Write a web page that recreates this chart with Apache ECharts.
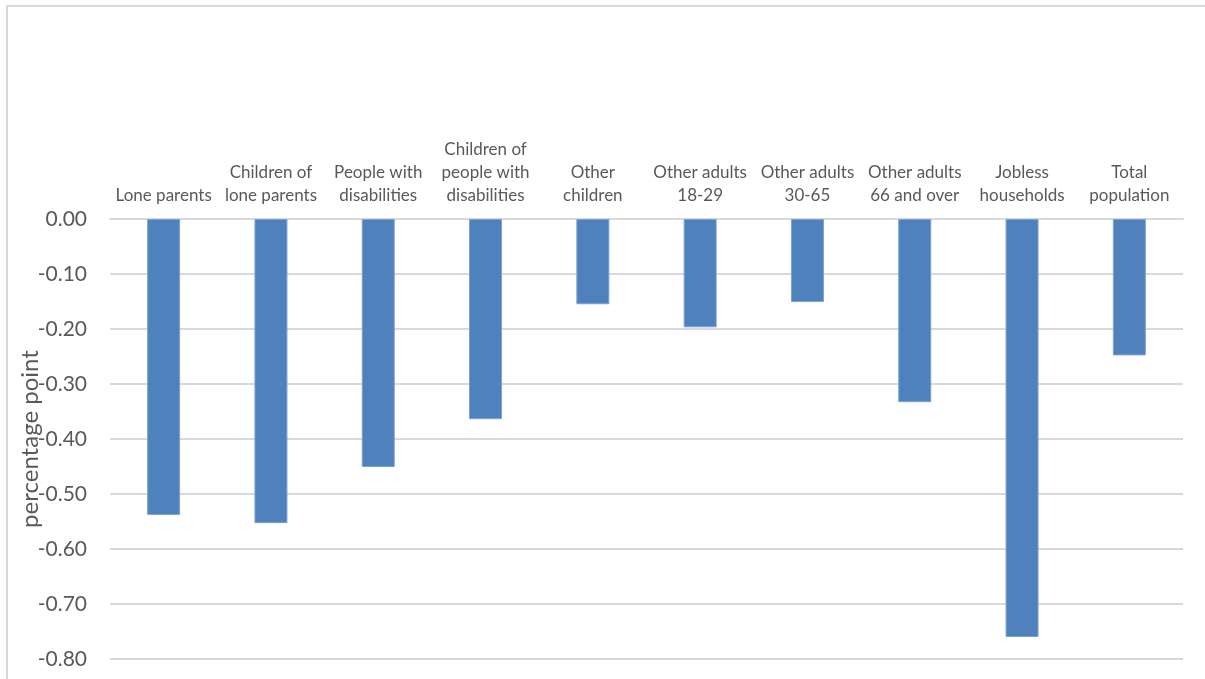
<!DOCTYPE html>
<html>
<head>
<meta charset="utf-8">
<script src="https://cdn.jsdelivr.net/npm/echarts@6/dist/echarts.min.js"></script>
<style>
  html, body { margin: 0; padding: 0; background: #fff; overflow: hidden; }
  #chart { width: 1205px; height: 679px; }
</style>
</head>
<body>
<div id="chart"></div>
<script>
// Groups (category labels, with line breaks as drawn above each bar)
const categories = [
  'Lone parents',
  'Children of\nlone parents',
  'People with\ndisabilities',
  'Children of\npeople with\ndisabilities',
  'Other\nchildren',
  'Other adults\n18-29',
  'Other adults\n30-65',
  'Other adults\n66 and over',
  'Jobless\nhouseholds',
  'Total\npopulation'
];

// Change in percentage points for each group
const values = [-0.538, -0.553, -0.451, -0.364, -0.155, -0.197, -0.151, -0.333, -0.760, -0.248];

// Value axis range and step
const yMin = -0.8;
const yMax = 0;
const yStep = 0.1;

const chart = echarts.init(document.getElementById('chart'));
const font = 'Lato, "Open Sans", sans-serif';

chart.setOption({
  animation: false,
  // light frame along the top and left edge of the chart area
  graphic: [{
    type: 'polyline',
    shape: { points: [[7, 700], [7, 6], [1230, 6]] },
    style: { stroke: '#d9d9d9', lineWidth: 2, fill: null },
    silent: true
  }],
  grid: { left: 110, right: 22, top: 219, bottom: 20, containLabel: false, outerBoundsMode: 'none' },
  xAxis: {
    type: 'category',
    data: categories,
    position: 'top',
    axisLine: { show: true, lineStyle: { color: '#d9d9d9', width: 2 } },
    axisTick: { show: false },
    axisLabel: {
      interval: 0,
      color: '#595959',
      fontFamily: font,
      fontSize: 17,
      lineHeight: 23,
      margin: 12
    }
  },
  yAxis: {
    type: 'value',
    min: yMin,
    max: yMax,
    interval: yStep,
    name: 'percentage point',
    nameLocation: 'middle',
    nameGap: 68,
    nameMoveOverlap: false,
    nameTextStyle: { color: '#595959', fontFamily: font, fontSize: 24 },
    axisLine: { show: false },
    axisTick: { show: false },
    splitLine: { lineStyle: { color: '#d9d9d9', width: 2 } },
    axisLabel: {
      color: '#595959',
      fontFamily: font,
      fontSize: 21,
      margin: 23,
      formatter: v => v.toFixed(2)
    }
  },
  series: [{
    type: 'bar',
    data: values,
    barWidth: 33,
    itemStyle: { color: '#4f81bd', borderColor: '#7aa3d6', borderWidth: 1 }
  }]
});
</script>
</body>
</html>
